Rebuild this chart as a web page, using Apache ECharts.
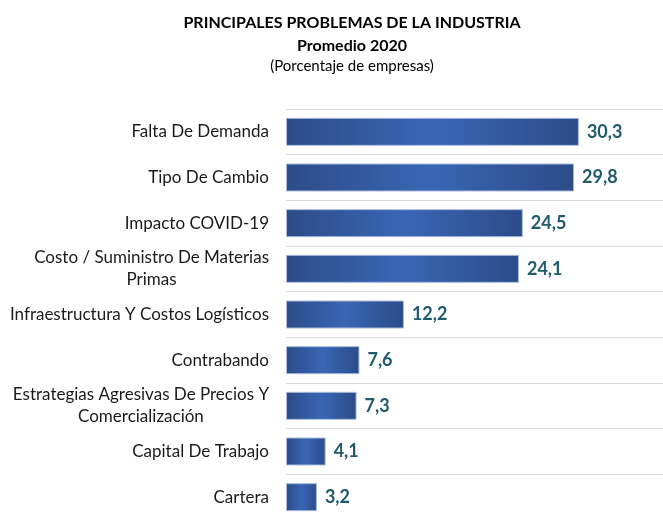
<!DOCTYPE html>
<html>
<head>
<meta charset="utf-8">
<script src="https://cdn.jsdelivr.net/npm/echarts@6/dist/echarts.min.js"></script>
<style>
  html, body { margin: 0; padding: 0; background: #fff; }
  #chart { width: 663px; height: 520px; }
</style>
</head>
<body>
<div id="chart"></div>
<script>
// categories from top to bottom
const categories = [
    'Falta De Demanda',
    'Tipo De Cambio',
    'Impacto COVID-19',
    'Costo / Suministro De Materias\nPrimas',
    'Infraestructura Y Costos Logísticos',
    'Contrabando',
    'Estrategias Agresivas De Precios Y\nComercialización',
    'Capital De Trabajo',
    'Cartera'
]
const values = [30.3, 29.8, 24.5, 24.1, 12.2, 7.6, 7.3, 4.1, 3.2]

const titleText = 'PRINCIPALES PROBLEMAS DE LA INDUSTRIA'
const yearText = 'Promedio 2020'
const unitText = '(Porcentaje de empresas)'

{
    let view = document.getElementById('chart')
    let myChart = echarts.init(view)
    let font = 'Lato, "Open Sans", sans-serif'
    let option = {
        animation: false,
        title: [
            {
                text: titleText, left: 347, textAlign: 'center', top: 10,
                textStyle: { fontFamily: font, fontSize: 16, fontWeight: 'bold', color: '#000' }
            },
            {
                text: yearText, left: 347, textAlign: 'center', top: 33,
                textStyle: { fontFamily: font, fontSize: 16, fontWeight: 'bold', color: '#000' }
            },
            {
                text: unitText, left: 347, textAlign: 'center', top: 54,
                textStyle: { fontFamily: font, fontSize: 15, fontWeight: 'normal', color: '#000' }
            }
        ],
        grid: { left: 286, right: 0, top: 109, bottom: -8 },
        xAxis: {
            type: 'value',
            min: 0,
            max: 39,
            show: false
        },
        yAxis: {
            type: 'category',
            inverse: true,
            data: categories,
            axisLine: { show: false },
            axisTick: { show: false },
            splitLine: { show: true, lineStyle: { color: '#dcdcdc', width: 1 } },
            axisLabel: {
                margin: 17,
                formatter: v => v.split('\n').map(s => '{c|' + s + '}').join('\n'),
                rich: {
                    c: { align: 'center', fontFamily: font, fontSize: 17, color: '#1a1a1a', lineHeight: 22 }
                }
            }
        },
        series: [{
            type: 'bar',
            data: values,
            barWidth: 28,
            itemStyle: {
                color: {
                    type: 'linear', x: 0, y: 0, x2: 1, y2: 0,
                    colorStops: [
                        { offset: 0, color: '#2c4c88' },
                        { offset: 0.5, color: '#3966b4' },
                        { offset: 1, color: '#2c4c88' }
                    ]
                },
                borderColor: '#a8bbe0',
                borderWidth: 1
            },
            label: {
                show: true,
                position: 'right',
                distance: 8,
                formatter: p => String(p.value).replace('.', ','),
                fontFamily: font,
                fontSize: 18,
                fontWeight: 'bold',
                color: '#215a6c'
            }
        }]
    }
    myChart.setOption(option)
}
</script>
</body>
</html>
